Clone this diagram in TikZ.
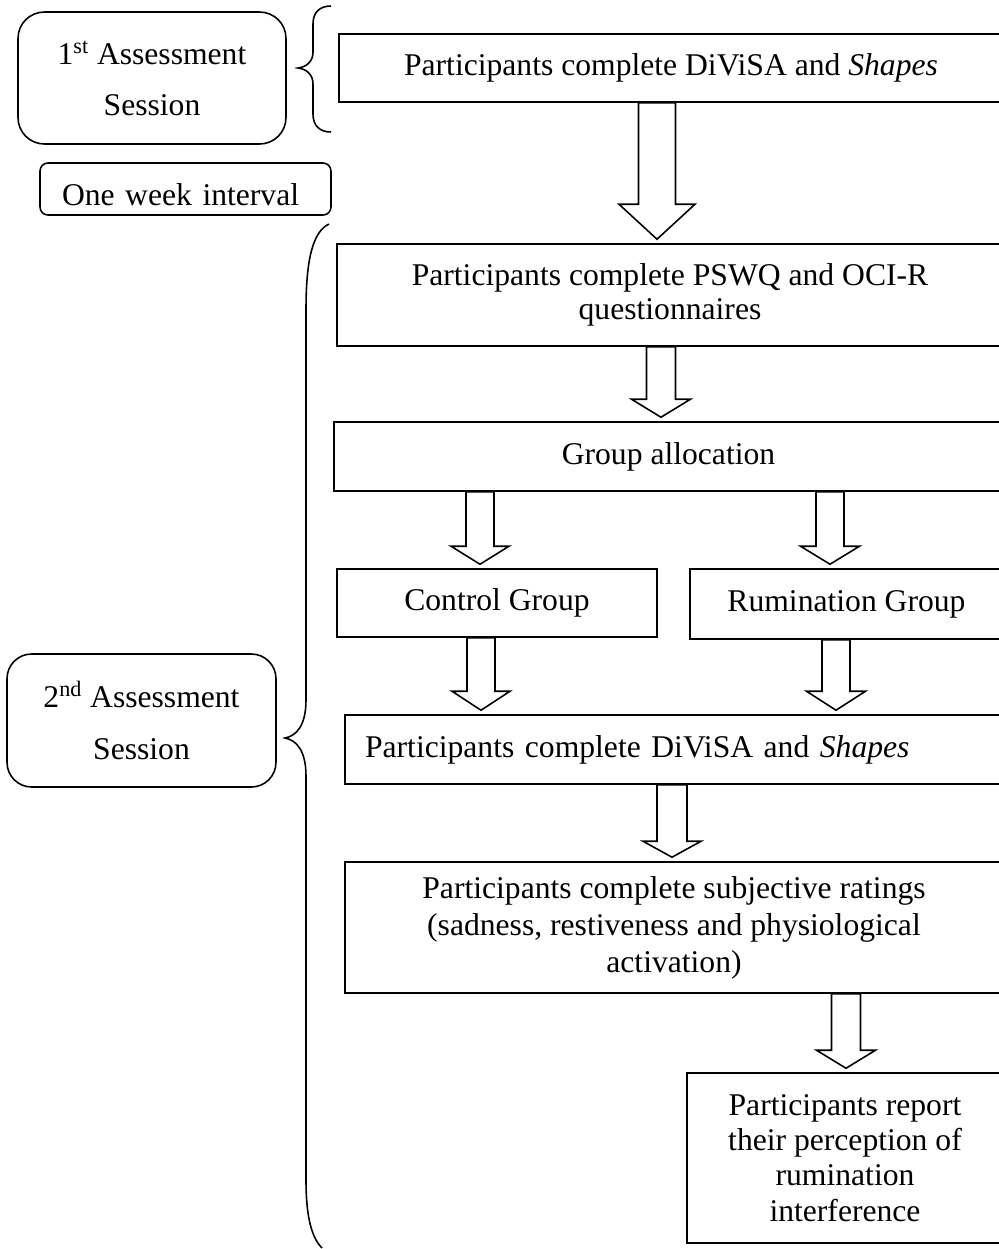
\documentclass[tikz,border=0pt]{standalone}
\usepackage{fontspec}
\setmainfont{Liberation Serif}
\usetikzlibrary{calc}

% hollow block arrow: x, source node, target node, half shaft, half head, head length
\newcommand{\flowarrow}[6]{%
  \coordinate (fa-s) at (#1,0 |- #2.south);
  \coordinate (fa-t) at ($(#1,0 |- #3.north)+(0,-4)$);
  \draw[blk] ($(fa-s)+(-#4,0)$) -- ($(fa-t)+(-#4,-#6)$) -- ($(fa-t)+(-#5,-#6)$) -- (fa-t)
    -- ($(fa-t)+(#5,-#6)$) -- ($(fa-t)+(#4,-#6)$) -- ($(fa-s)+(#4,0)$) -- cycle;}

\begin{document}
\begin{tikzpicture}[
  x=0.02cm, y=-0.02cm,
  font=\fontsize{18pt}{20.5pt}\selectfont,
  box/.style={draw, line width=0.9pt, inner sep=0pt, align=center},
  sess/.style={box},
  blk/.style={draw, fill=white, line width=0.9pt},
  brc/.style={line width=0.9pt},
]
\fill[white] (0,0) rectangle (999,1249);
\clip (0,0) rectangle (999,1249);
% sessions (left)
\node[sess, rounded corners=15pt, minimum width=5.36cm, minimum height=2.64cm,
  font=\fontsize{18pt}{29pt}\selectfont] (first) at (152,78) {1\textsuperscript{st} Assessment\\Session};
\node[sess, rounded corners=4.5pt, minimum width=5.82cm, minimum height=1.04cm,
  text height=0.84cm, text depth=0.2cm, inner xsep=0.44cm, text width=4.94cm, align=left] (week) at (185.5,189) {One week interval};
\node[sess, rounded corners=14pt, minimum width=5.38cm, minimum height=2.66cm,
  font=\fontsize{18pt}{30pt}\selectfont] (second) at (141.5,720.5) {2\textsuperscript{nd} Assessment\\Session};
% procedure (right)
\node[box, minimum width=13.28cm, minimum height=1.36cm] (divisa1) at (671,68) {Participants complete DiViSA and \textit{Shapes}};
\node[box, minimum width=13.32cm, minimum height=2.04cm, font=\fontsize{18pt}{19pt}\selectfont] (pswq) at (670,295)
  {Participants complete PSWQ and OCI-R\\questionnaires};
\node[box, minimum width=13.38cm, minimum height=1.38cm] (alloc) at (668.5,456.5) {Group allocation};
\node[box, minimum width=6.4cm, minimum height=1.36cm] (control) at (497,603) {Control Group};
\node[box, minimum width=6.26cm, minimum height=1.4cm] (rumin) at (846.5,604) {Rumination Group};
\node[box, minimum width=13.16cm, minimum height=1.38cm, text width=12.36cm, inner xsep=0.4cm, align=left] (divisa2) at (674,749.5)
  {Participants complete DiViSA and \textit{Shapes}};
\node[box, minimum width=13.16cm, minimum height=2.62cm, font=\fontsize{18pt}{21pt}\selectfont] (ratings) at (674,927.5)
  {Participants complete subjective ratings\\(sadness, restiveness and physiological\\activation)};
\node[box, minimum width=6.32cm, minimum height=3.4cm, font=\fontsize{18pt}{20pt}\selectfont] (report) at (845,1158)
  {Participants report\\their perception of\\rumination\\interference};
% block arrows
\flowarrow{657}{divisa1}{pswq}{18.5}{38}{35}
\flowarrow{661}{pswq}{alloc}{14.5}{29.5}{18}
\flowarrow{480}{alloc}{control}{14}{29}{18}
\flowarrow{830}{alloc}{rumin}{14}{29.5}{18}
\flowarrow{481}{control}{divisa2}{14}{29}{19}
\flowarrow{836}{rumin}{divisa2}{14}{29.5}{19}
\flowarrow{672}{divisa2}{ratings}{15}{29}{16}
\flowarrow{846}{ratings}{report}{14.5}{29.5}{18}
% braces
\draw[brc] (331,6) .. controls (320,6) and (313,12) .. (313,24) -- (313,52)
  .. controls (313,62) and (306,67) .. (298,68) .. controls (306,69) and (313,74) .. (313,84)
  -- (313,114) .. controls (313,126) and (320,132) .. (331,132);
\draw[brc] (329,224) .. controls (312,232) and (306,262) .. (306,310) -- (306,700)
  .. controls (306,726) and (296,736) .. (285,738) .. controls (296,740) and (306,750) .. (306,776)
  -- (306,1180) .. controls (306,1218) and (312,1238) .. (322,1248);
\end{tikzpicture}
\end{document}
